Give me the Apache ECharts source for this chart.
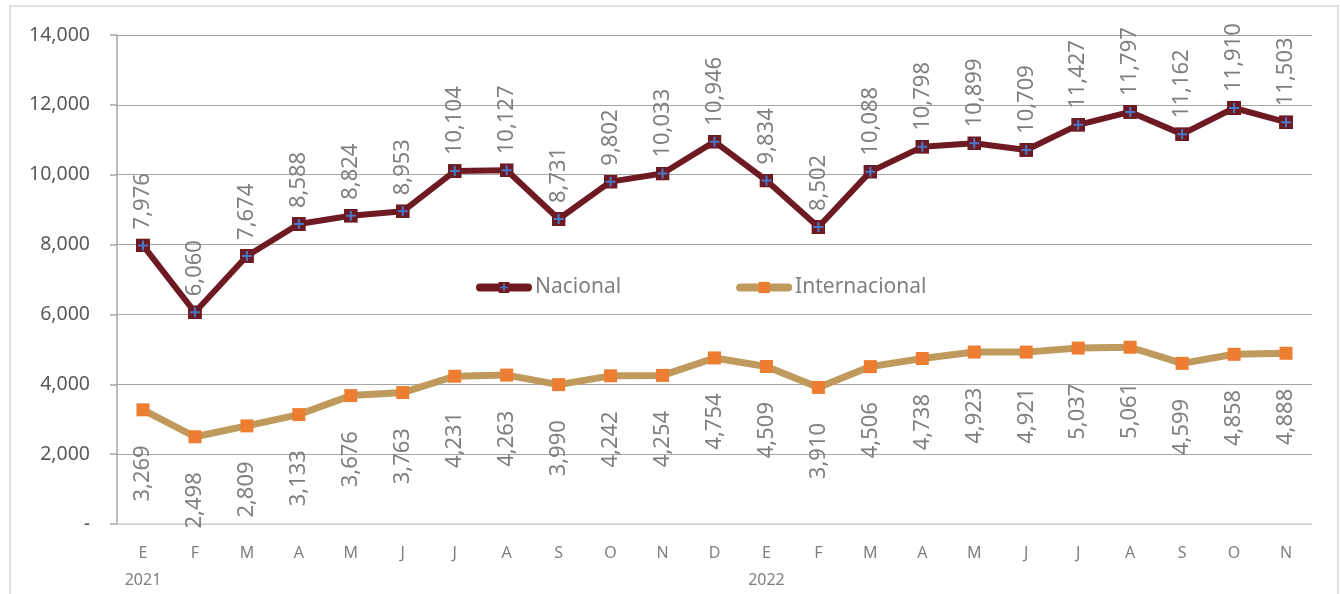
<!DOCTYPE html>
<html><head><meta charset="utf-8">
<script src="https://cdn.jsdelivr.net/npm/echarts@6/dist/echarts.min.js"></script>
<style>html,body{margin:0;padding:0;background:#fff}#c{width:1340px;height:594px}</style>
</head><body><div id="c"></div>
<script>
var months = ['E','F','M','A','M','J','J','A','S','O','N','D','E','F','M','A','M','J','J','A','S','O','N'];
var years = {0:'2021', 12:'2022'};
var nacional = [7976,6060,7674,8588,8824,8953,10104,10127,8731,9802,10033,10946,9834,8502,10088,10798,10899,10709,11427,11797,11162,11910,11503];
var internacional = [3269,2498,2809,3133,3676,3763,4231,4263,3990,4242,4254,4754,4509,3910,4506,4738,4923,4921,5037,5061,4599,4858,4888];

var FONT = '"Noto Sans", sans-serif';
var nacSymbol = 'image://data:image/svg+xml;utf8,' + encodeURIComponent(
  '<svg xmlns="http://www.w3.org/2000/svg" width="14" height="14"><rect x="0" y="0" width="14" height="14" fill="#6e1a22"/><path d="M7 2V12M2 7H12" stroke="#4a78c8" stroke-width="2"/></svg>');
function fmt(v){ return v.toLocaleString('en-US'); }

var chart = echarts.init(document.getElementById('c'));
chart.setOption({
  animation:false,
  backgroundColor:'#fff',
  graphic:[{type:'rect', shape:{x:10,y:6,width:1328,height:600}, style:{fill:'none', stroke:'#d9d9d9', lineWidth:1.5}, silent:true}],
  grid:{left:117, right:28, top:35, bottom:67},
  legend:{
    left:471, top:272, itemWidth:48, itemHeight:14, itemGap:115,
    textStyle:{color:'#7f7f7f', fontSize:21, fontFamily:FONT, padding:[0,0,0,2]},
    data:[
      {name:'Nacional', lineStyle:{width:8, cap:'round', color:'#6e1a22'}},
      {name:'Internacional', lineStyle:{width:8, cap:'round', color:'#c09a5c'}}
    ]
  },
  xAxis:{
    type:'category', data:months, boundaryGap:true,
    axisLine:{lineStyle:{color:'#d9d9d9', width:1.5}},
    axisTick:{show:false},
    axisLabel:{
      interval:0, margin:16, color:'#7f7f7f', fontSize:16, fontFamily:FONT, lineHeight:27,
      formatter:function(v, i){ return years[i] ? v + '\n' + years[i] : v; }
    }
  },
  yAxis:{
    type:'value', min:0, max:14000, interval:2000,
    axisLine:{show:true, lineStyle:{color:'#a6a6a6', width:1.5}},
    axisTick:{show:true, length:7, lineStyle:{color:'#a6a6a6', width:1.5}},
    splitLine:{lineStyle:{color:'#a6a6a6', width:1.2}},
    axisLabel:{margin:27, color:'#595959', fontSize:19.5, fontFamily:FONT,
      formatter:function(v){ return v===0 ? '-' : fmt(v); }}
  },
  series:[
    {
      name:'Nacional', type:'line', data:nacional,
      symbol:nacSymbol, symbolSize:14, showAllSymbol:true,
      lineStyle:{color:'#6e1a22', width:6},
      itemStyle:{color:'#6e1a22'},
      label:{show:true, position:'top', rotate:90, distance:9, align:'left', verticalAlign:'middle',
        color:'#7f7f7f', fontSize:22, fontFamily:FONT, formatter:function(p){return fmt(p.value);}}
    },
    {
      name:'Internacional', type:'line', data:internacional,
      symbol:'rect', symbolSize:13, showAllSymbol:true,
      lineStyle:{color:'#c09a5c', width:7},
      itemStyle:{color:'#ed7d31', borderWidth:0},
      label:{show:true, position:'bottom', rotate:90, distance:29, align:'right', verticalAlign:'middle',
        color:'#7f7f7f', fontSize:22, fontFamily:FONT, formatter:function(p){return fmt(p.value);}}
    }
  ]
});
</script></body></html>
